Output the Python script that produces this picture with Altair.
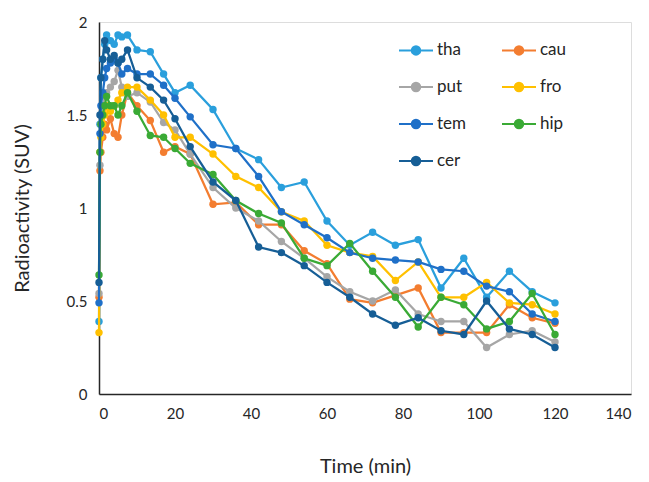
import altair as alt
import pandas as pd

times = [0, 0.25, 0.5, 1, 1.5, 2, 3, 4, 5, 6, 7.5, 10, 13.5, 17, 20, 24, 30, 36, 42, 48,
         54, 60, 66, 72, 78, 84, 90, 96, 102, 108, 114, 120]

tha = [0.39, 1.45, 1.70, 1.80, 1.88, 1.93, 1.90, 1.88, 1.93, 1.92, 1.93, 1.85, 1.84, 1.72, 1.62, 1.66,
       1.53, 1.32, 1.26, 1.11, 1.14, 0.93, 0.80, 0.87, 0.80, 0.83, 0.57, 0.73, 0.52, 0.66, 0.55, 0.49]
cau = [0.52, 1.20, 1.30, 1.38, 1.45, 1.42, 1.48, 1.40, 1.38, 1.50, 1.62, 1.55, 1.47, 1.30, 1.33, 1.29,
       1.02, 1.03, 0.91, 0.91, 0.77, 0.70, 0.51, 0.49, 0.53, 0.57, 0.33, 0.33, 0.33, 0.48, 0.41, 0.38]
put = [0.54, 1.23, 1.45, 1.55, 1.60, 1.62, 1.65, 1.68, 1.74, 1.65, 1.60, 1.62, 1.57, 1.46, 1.42, 1.29,
       1.11, 1.00, 0.93, 0.82, 0.73, 0.63, 0.55, 0.50, 0.56, 0.43, 0.39, 0.39, 0.25, 0.32, 0.34, 0.28]
fro = [0.33, 1.30, 1.38, 1.45, 1.50, 1.55, 1.52, 1.55, 1.58, 1.62, 1.65, 1.65, 1.58, 1.50, 1.38, 1.38,
       1.29, 1.17, 1.11, 0.98, 0.93, 0.80, 0.76, 0.74, 0.61, 0.71, 0.52, 0.52, 0.60, 0.49, 0.48, 0.43]
tem = [0.49, 1.40, 1.55, 1.62, 1.70, 1.75, 1.78, 1.80, 1.78, 1.72, 1.75, 1.72, 1.72, 1.66, 1.59, 1.49,
       1.34, 1.32, 1.17, 0.98, 0.91, 0.84, 0.76, 0.73, 0.72, 0.71, 0.67, 0.66, 0.58, 0.55, 0.43, 0.39]
hip = [0.64, 1.30, 1.45, 1.50, 1.55, 1.60, 1.55, 1.55, 1.50, 1.55, 1.62, 1.52, 1.39, 1.38, 1.32, 1.24,
       1.18, 1.04, 0.97, 0.92, 0.73, 0.69, 0.81, 0.66, 0.52, 0.36, 0.52, 0.48, 0.35, 0.39, 0.54, 0.32]
cer = [0.60, 1.50, 1.70, 1.80, 1.90, 1.85, 1.80, 1.82, 1.78, 1.80, 1.85, 1.70, 1.65, 1.58, 1.48, 1.33,
       1.14, 1.04, 0.79, 0.76, 0.69, 0.60, 0.52, 0.43, 0.37, 0.41, 0.34, 0.32, 0.50, 0.35, 0.32, 0.25]

series_names = ["tha", "cau", "put", "fro", "tem", "hip", "cer"]
series_values = [tha, cau, put, fro, tem, hip, cer]
series_colors = ["#2A9FDC", "#F37D30", "#A6A6A6", "#FFC000", "#1F70C8", "#3AAA35", "#165E96"]

rows = []
for name, vals in zip(series_names, series_values):
    for t, v in zip(times, vals):
        rows.append({"Time": t, "SUV": v, "Region": name})
df = pd.DataFrame(rows)

FONT = "Lato"
legend_path = "M-1,0L1,0M-0.25,0a0.25,0.25 0 1,0 0.5,0a0.25,0.25 0 1,0 -0.5,0Z"

color = alt.Color(
    "Region:N",
    scale=alt.Scale(domain=series_names, range=series_colors),
    legend=alt.Legend(
        title=None, orient="none", legendX=299, legendY=10, columns=2,
        direction="horizontal",
        symbolType=legend_path, symbolSize=1156, symbolStrokeWidth=2,
        labelFont=FONT, labelFontSize=17, labelColor="#262626", labelOffset=3,
        rowPadding=10, columnPadding=31,
    ),
)

x = alt.X("Time:Q", scale=alt.Scale(domain=[0, 140], nice=False),
          axis=alt.Axis(values=[0, 20, 40, 60, 80, 100, 120, 140], title="Time (min)",
                        grid=False, ticks=False, labelPadding=12, labelFontSize=15,
                        titleFontSize=20, titleFontWeight="normal", titleBaseline="middle",
                        titleY=72, domainColor="#262626", domainWidth=1.5,
                        labelColor="#262626", titleColor="#262626",
                        labelFont=FONT, titleFont=FONT))
y = alt.Y("SUV:Q", scale=alt.Scale(domain=[0, 2], nice=False),
          axis=alt.Axis(values=[0, 0.5, 1, 1.5, 2], format="~g", title="Radioactivity (SUV)",
                        grid=False, ticks=False, labelPadding=12, labelFontSize=15,
                        titleFontSize=20, titleFontWeight="normal", titleBaseline="middle",
                        titleX=-77, titleY=186, domainColor="#262626", domainWidth=1.5,
                        labelColor="#262626", titleColor="#262626",
                        labelFont=FONT, titleFont=FONT))

layers = []
for name in series_names:
    base = alt.Chart(df).transform_filter(alt.datum.Region == name)
    layers.append(base.mark_line(strokeWidth=2.25).encode(x=x, y=y, color=color))
    layers.append(base.mark_point(filled=True, size=55, opacity=1).encode(x=x, y=y, color=color))

chart = alt.layer(*layers).properties(
    width=532, height=372,
    autosize=alt.AutoSizeParams(type="none"),
    padding={"left": 91, "top": 14, "right": 10, "bottom": 86},
).configure_view(stroke=None).configure(background="white")

chart.save("out.html", embed_options={"renderer": "svg", "actions": False})
